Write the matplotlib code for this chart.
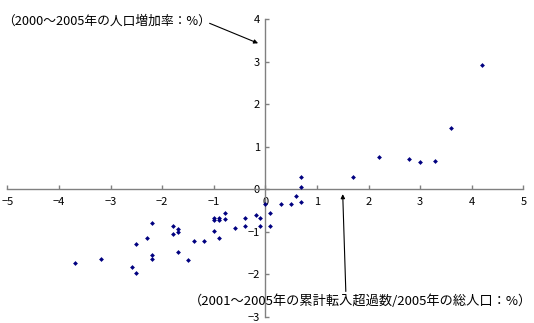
import matplotlib
matplotlib.use("Agg")
import matplotlib.pyplot as plt

plt.rcParams['font.family'] = ['Noto Sans CJK JP', 'DejaVu Sans']

# 転入超過率（x）と人口増加率（y）
x_vals = [-3.68, -3.19, -2.59, -2.50, -2.50, -2.30, -2.19, -2.19, -2.19,
          -1.79, -1.79, -1.69, -1.69, -1.69, -1.49, -1.39, -1.19,
          -0.99, -0.99, -0.99, -0.90, -0.90, -0.90, -0.79, -0.79, -0.59,
          -0.39, -0.39, -0.19, -0.10, -0.10, 0.00, 0.10, 0.10,
          0.30, 0.50, 0.60, 0.70, 0.70, 0.70, 1.69,
          2.20, 2.79, 2.99, 3.29, 3.59, 4.19]
y_vals = [-1.75, -1.65, -1.84, -1.97, -1.30, -1.15, -0.79, -1.56, -1.65,
          -0.87, -1.05, -0.94, -1.01, -1.47, -1.68, -1.23, -1.22,
          -0.99, -0.68, -0.72, -0.68, -0.72, -1.15, -0.57, -0.71, -0.91,
          -0.68, -0.86, -0.61, -0.68, -0.86, -0.36, -0.57, -0.87,
          -0.35, -0.35, -0.17, -0.31, 0.05, 0.28, 0.28,
          0.76, 0.71, 0.64, 0.66, 1.44, 2.91]

x_ticks = [-5, -4, -3, -2, -1, 0, 1, 2, 3, 4, 5]
y_ticks = [-3, -2, -1, 0, 1, 2, 3, 4]

y_label = "（2000～2005年の人口増加率：%）"
x_label = "（2001～2005年の累計転入超過数/2005年の総人口：%）"

fig = plt.figure(figsize=(5.34, 3.23), dpi=100)
ax = fig.add_axes([0.0137, 0.020, 0.9663, 0.921])

ax.scatter(x_vals, y_vals, marker='D', s=6, color='#000080',
           linewidths=0, zorder=3)

ax.set_xlim(-5, 5)
ax.set_ylim(-3, 4)
ax.set_xticks(x_ticks)
ax.set_yticks(y_ticks)
ax.set_xticklabels([str(v).replace('-', '−') for v in x_ticks])
ax.set_yticklabels([str(v).replace('-', '−') for v in y_ticks])

for s in ['top', 'right']:
    ax.spines[s].set_visible(False)
ax.spines['left'].set_position(('data', 0))
ax.spines['bottom'].set_position(('data', 0))
for s in ['left', 'bottom']:
    ax.spines[s].set_color('#808080')
    ax.spines[s].set_linewidth(1.0)

ax.tick_params(axis='both', direction='in', length=3, width=1.0,
               colors='#808080', labelcolor='black', labelsize=8)
ax.tick_params(axis='x', pad=6)
ax.tick_params(axis='y', pad=4)

# 注記と矢印
ax.text(-5.1, 3.95, y_label, fontsize=9.2, ha='left', va='center')
ax.annotate('', xy=(-0.14, 3.43), xytext=(-1.08, 3.9),
            arrowprops=dict(arrowstyle='-|>', color='black', lw=0.8,
                            mutation_scale=6, shrinkA=0, shrinkB=0),
            annotation_clip=False)
ax.text(1.85, -2.63, x_label, fontsize=9.5, ha='center', va='center')
ax.annotate('', xy=(1.50, -0.12), xytext=(1.56, -2.41),
            arrowprops=dict(arrowstyle='-|>', color='black', lw=0.8,
                            mutation_scale=6, shrinkA=0, shrinkB=0),
            annotation_clip=False)

fig.savefig("out.png", dpi=100)
